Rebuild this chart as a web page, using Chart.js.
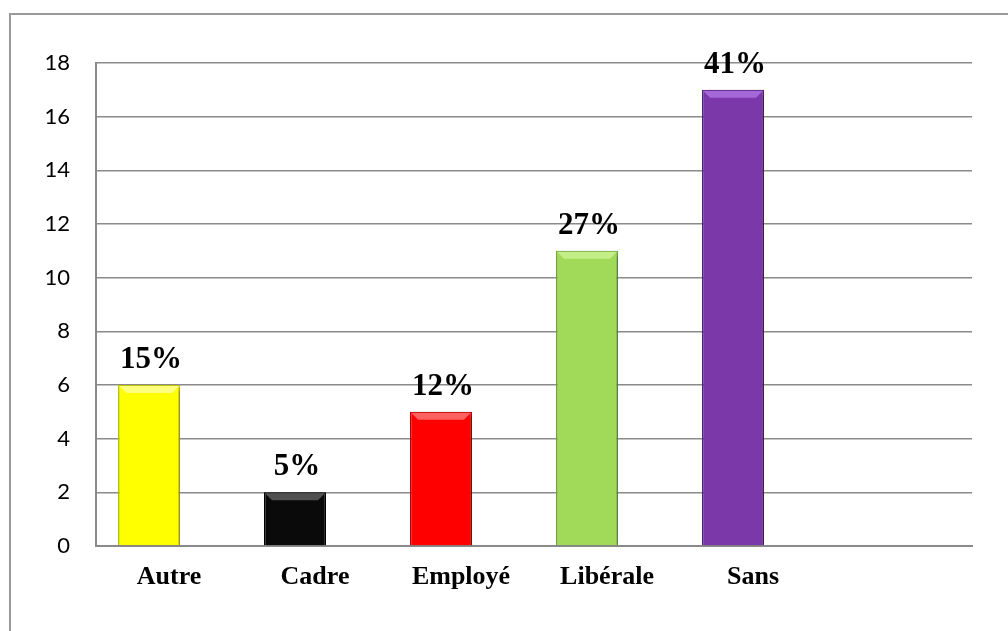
<!DOCTYPE html>
<html>
<head>
<meta charset="utf-8">
<script src="https://cdn.jsdelivr.net/npm/chart.js@4.4.1/dist/chart.umd.min.js"></script>
<style>
  html, body { margin: 0; padding: 0; background: #fff; }
  #wrap { position: relative; width: 1008px; height: 631px; overflow: hidden; }
  #frame { position: absolute; left: 9px; top: 13px; width: 1100px; height: 700px;
           border-top: 2px solid #9a9a9a; border-left: 2px solid #9a9a9a; }
  canvas { position: absolute; left: 0; top: 0; }
</style>
</head>
<body>
<div id="wrap">
  <div id="frame"></div>
  <canvas id="chart" width="1008" height="631"></canvas>
</div>
<script>
// catégories (la 6e case est vide dans l'original)
const categories = ["Autre", "Cadre", "Employé", "Libérale", "Sans", ""];
const effectifs = [6, 2, 5, 11, 17, null];
const serieVide = [null, null, null, null, null, null];
const pourcentages = ["15%", "5%", "12%", "27%", "41%"];
const couleurs = ["#FFFF00", "#0A0A0A", "#FF0000", "#A0DA58", "#7A38A8", "#ffffff"];
const bordures = ["#C8C800", "#000000", "#C00000", "#78B040", "#5A2080", "#ffffff"];
const reflets = ["#FFFF80", "#505050", "#FF6060", "#C4EE88", "#A468D8", "#ffffff"];
const yTicks = [0, 2, 4, 6, 8, 10, 12, 14, 16, 18];

// ombre portée des barres
const ombre = {
    id: "ombre",
    beforeDatasetsDraw(chart) {
        const ctx = chart.ctx;
        ctx.save();
        ctx.shadowColor = "rgba(0,0,0,0.35)";
        ctx.shadowBlur = 5;
        ctx.shadowOffsetX = 2;
        ctx.shadowOffsetY = 2;
    },
    afterDatasetsDraw(chart) {
        chart.ctx.restore();
    }
};

// petit biseau en haut des barres + étiquettes de pourcentage
const etiquettes = {
    id: "etiquettes",
    afterDatasetsDraw(chart) {
        const ctx = chart.ctx;
        const meta = chart.getDatasetMeta(0);
        ctx.save();
        meta.data.forEach((bar, i) => {
            if (effectifs[i] === null) return;
            const g = bar.x - bar.width / 2, d = bar.x + bar.width / 2;
            const b = 8;
            ctx.fillStyle = reflets[i];
            ctx.beginPath();
            ctx.moveTo(g + 1, bar.y + 1);
            ctx.lineTo(d - 1, bar.y + 1);
            ctx.lineTo(d - b, bar.y + b);
            ctx.lineTo(g + b, bar.y + b);
            ctx.closePath();
            ctx.fill();
        });
        ctx.font = "bold 31px 'Liberation Serif', 'Times New Roman', serif";
        ctx.fillStyle = "#000";
        ctx.textAlign = "center";
        ctx.textBaseline = "alphabetic";
        meta.data.forEach((bar, i) => {
            if (pourcentages[i] === undefined) return;
            ctx.fillText(pourcentages[i], bar.x + 2, bar.y - 17);
        });
        ctx.restore();
    }
};

new Chart(document.getElementById("chart"), {
    type: "bar",
    data: {
        labels: categories,
        datasets: [
            {
                label: "Effectif",
                data: effectifs,
                backgroundColor: couleurs,
                borderColor: bordures,
                borderWidth: 1.5,
                categoryPercentage: 0.548,
                barPercentage: 1.55
            },
            {
                label: "",
                data: serieVide,
                backgroundColor: "#ffffff",
                categoryPercentage: 0.548,
                barPercentage: 1.55
            }
        ]
    },
    options: {
        responsive: false,
        animation: false,
        layout: { padding: { left: 0, top: 63, right: 36, bottom: 0 } },
        plugins: {
            legend: { display: false },
            tooltip: { enabled: false }
        },
        scales: {
            x: {
                grid: { display: false, drawTicks: false },
                border: { color: "#8a8a8a", width: 2 },
                ticks: {
                    color: "#000",
                    padding: 16,
                    maxRotation: 0,
                    font: { family: "'Liberation Serif', 'Times New Roman', serif", size: 26, weight: "bold" }
                },
                afterFit(scale) { scale.height = 85; }
            },
            y: {
                min: 0,
                max: 18,
                afterBuildTicks(scale) { scale.ticks = yTicks.map(v => ({ value: v })); },
                grid: { color: "#8a8a8a", lineWidth: 1.5, drawTicks: false },
                border: { color: "#8a8a8a", width: 2 },
                ticks: {
                    color: "#000",
                    padding: 26,
                    font: { family: "Lato, 'Noto Sans', sans-serif", size: 22 }
                },
                afterFit(scale) { scale.width = 96; }
            }
        }
    },
    plugins: [ombre, etiquettes]
});
</script>
</body>
</html>
